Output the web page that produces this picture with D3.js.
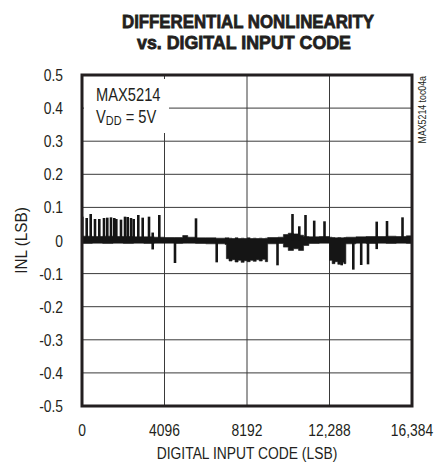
<!DOCTYPE html>
<html lang="en">
<head>
<meta charset="utf-8">
<title>Differential Nonlinearity vs. Digital Input Code</title>
<script src="https://cdn.jsdelivr.net/npm/d3@7"></script>
<style>
  body { margin: 0; background: #fff; }
  text { font-family: "Liberation Sans", Arial, sans-serif; fill: #231f20; }
  .title { font-weight: bold; font-size: 19px; stroke: #231f20; stroke-width: 0.8; }
  .grid { stroke: #3a3a3a; stroke-width: 1; }
  .frame { fill: none; stroke: #231f20; stroke-width: 3; }
  .band { fill: #151515; stroke: #151515; stroke-width: 0.6; }
  .spike { stroke: #151515; stroke-width: 2.6; }
</style>
</head>
<body>
<div id="chart"></div>
<script>
// tick labels
var xTicks = [0, 4096, 8192, 12288, 16384];
var xTickLabels = ["0", "4096", "8192", "12,288", "16,384"];
var yTicks = [-0.5, -0.4, -0.3, -0.2, -0.1, 0, 0.1, 0.2, 0.3, 0.4, 0.5];
var yTickLabels = ["-0.5", "-0.4", "-0.3", "-0.2", "-0.1", "0", "0.1", "0.2", "0.3", "0.4", "0.5"];

// noise band envelope (code, upper, lower)
var envCode = [0, 512, 1024, 1536, 2048, 2560, 3072, 3584,
  4096, 4608, 5000, 5250, 5632, 6144, 6656, 7100,
  7168, 7300, 7450, 7600, 7750, 7900, 8050, 8200, 8350, 8500, 8650, 8800, 8950, 9100,
  9216, 9728, 10000, 10240, 10500, 10750, 11000, 11264, 11776,
  12288, 12420, 12560, 12700, 12850, 13000, 13100,
  13600, 14100, 14600, 15100, 15600, 16100, 16384];
var envHi = [0.013, 0.012, 0.013, 0.012, 0.012, 0.011, 0.011, 0.010,
  0.009, 0.009, 0.015, 0.010, 0.008, 0.008, 0.007, 0.008,
  0.008, 0.007, 0.006, 0.008, 0.006, 0.007, 0.006, 0.008, 0.006, 0.007, 0.006, 0.007, 0.006, 0.007,
  0.009, 0.010, 0.018, 0.022, 0.020, 0.016, 0.012, 0.011, 0.012,
  0.010, 0.009, 0.008, 0.009, 0.008, 0.009, 0.010,
  0.011, 0.012, 0.012, 0.013, 0.012, 0.014, 0.014];
var envLo = [-0.009, -0.008, -0.009, -0.008, -0.009, -0.008, -0.009, -0.008,
  -0.008, -0.009, -0.008, -0.008, -0.009, -0.010, -0.010, -0.012,
  -0.055, -0.062, -0.058, -0.065, -0.060, -0.066, -0.061, -0.064, -0.060, -0.063, -0.058, -0.062, -0.057, -0.064,
  -0.010, -0.009, -0.020, -0.030, -0.025, -0.030, -0.015, -0.009, -0.008,
  -0.060, -0.070, -0.064, -0.072, -0.066, -0.070, -0.010,
  -0.008, -0.009, -0.008, -0.009, -0.008, -0.009, -0.009];

// isolated spikes above zero
var upCode = [15, 233, 432, 645, 859, 1092, 1256, 1440, 1604, 1703, 1936, 2135, 2268, 2433, 2567, 2795, 3013, 3327, 3510, 3838,
  5660, 10451, 10789, 11097, 11529, 12040, 14632, 15143, 15913];
var upValue = [0.072, 0.068, 0.080, 0.065, 0.065, 0.068, 0.069, 0.070, 0.068, 0.065, 0.063, 0.072, 0.071, 0.068, 0.065, 0.077, 0.069, 0.072, 0.024, 0.077,
  0.067, 0.080, 0.043, 0.077, 0.060, 0.058, 0.057, 0.059, 0.070];
// isolated spikes below zero
var downCode = [3510, 4617, 6688, 9707, 12894, 13470, 13862, 14200, 14632];
var downValue = [-0.027, -0.068, -0.066, -0.075, -0.075, -0.088, -0.074, -0.072, -0.026];

var width = 435, height = 463;
var margin = {left: 82, right: 23, top: 75, bottom: 57};

var x = d3.scaleLinear().domain([0, 16384]).range([margin.left, width - margin.right]);
var y = d3.scaleLinear().domain([-0.5, 0.5]).range([height - margin.bottom, margin.top]);

var svg = d3.select('#chart').append('svg').attr('width', width).attr('height', height);

// narrow text: squeeze a normal sans horizontally
function narrow(parent, px, py, str, size, anchor, rot, sx) {
  var g = parent.append('g')
    .attr('transform', 'translate(' + px + ',' + py + ')' + (rot ? ' rotate(' + rot + ')' : '') + ' scale(' + (sx || 0.84) + ',1)');
  return g.append('text').attr('font-size', size).attr('text-anchor', anchor || 'start').text(str);
}

// title
svg.append('text').attr('class', 'title').attr('x', 248).attr('y', 27.5)
  .attr('text-anchor', 'middle').attr('textLength', 252).attr('lengthAdjust', 'spacingAndGlyphs')
  .text('DIFFERENTIAL NONLINEARITY');
svg.append('text').attr('class', 'title').attr('x', 244).attr('y', 48.5)
  .attr('text-anchor', 'middle').attr('textLength', 214).attr('lengthAdjust', 'spacingAndGlyphs')
  .text('vs. DIGITAL INPUT CODE');

// grid
var grid = svg.append('g');
grid.selectAll('line.gx').data(xTicks.slice(1, -1)).enter().append('line')
  .attr('class', 'grid')
  .attr('x1', function(d){ return x(d); }).attr('x2', function(d){ return x(d); })
  .attr('y1', y(0.5)).attr('y2', y(-0.5));
grid.selectAll('line.gy').data(yTicks.slice(1, -1)).enter().append('line')
  .attr('class', 'grid')
  .attr('x1', x(0)).attr('x2', x(16384))
  .attr('y1', function(d){ return y(d); }).attr('y2', function(d){ return y(d); });

// data
var plot = svg.append('g');
var envData = envCode.map(function(c, i){ return [c, envHi[i], envLo[i]]; });
var band = d3.area().curve(d3.curveStepAfter)
  .x(function(d){ return x(d[0]); })
  .y0(function(d){ return y(d[2]); })
  .y1(function(d){ return y(d[1]); });
plot.append('path').attr('class', 'band').attr('d', band(envData));

var ups = upCode.map(function(c, i){ return [c, upValue[i]]; });
var downs = downCode.map(function(c, i){ return [c, downValue[i]]; });
plot.selectAll('line.spike').data(ups.concat(downs)).enter().append('line')
  .attr('class', 'spike')
  .attr('x1', function(d){ return x(d[0]); }).attr('x2', function(d){ return x(d[0]); })
  .attr('y1', y(0)).attr('y2', function(d){ return y(d[1]); });

// legend
svg.append('rect').attr('x', x(0) + 2).attr('y', 79).attr('width', 85).attr('height', 54).attr('fill', '#fff');
narrow(svg, 96, 100.5, 'MAX5214', 17.5);
var vdd = narrow(svg, 96, 123, '', 17.5);
vdd.append('tspan').text('V');
vdd.append('tspan').attr('font-size', 13).attr('dy', 2).text('DD');
vdd.append('tspan').attr('dy', -2).text(' = 5V');

// frame
svg.append('rect').attr('class', 'frame')
  .attr('x', x(0)).attr('y', y(0.5))
  .attr('width', x(16384) - x(0)).attr('height', y(-0.5) - y(0.5));

// tick labels
xTicks.forEach(function(d, i){ narrow(svg, x(d), 436, xTickLabels[i], 16.5, 'middle'); });
yTicks.forEach(function(d, i){ narrow(svg, 63, y(d) + 6, yTickLabels[i], 16.5, 'end'); });

// axis titles
narrow(svg, 247, 459, 'DIGITAL INPUT CODE (LSB)', 16.5, 'middle', 0, 0.84);
narrow(svg, 27, y(0), 'INL (LSB)', 17, 'middle', -90, 0.9);

narrow(svg, 426, 76, 'MAX5214 toc04a', 10, 'end', -90, 0.88);
</script>
</body>
</html>
